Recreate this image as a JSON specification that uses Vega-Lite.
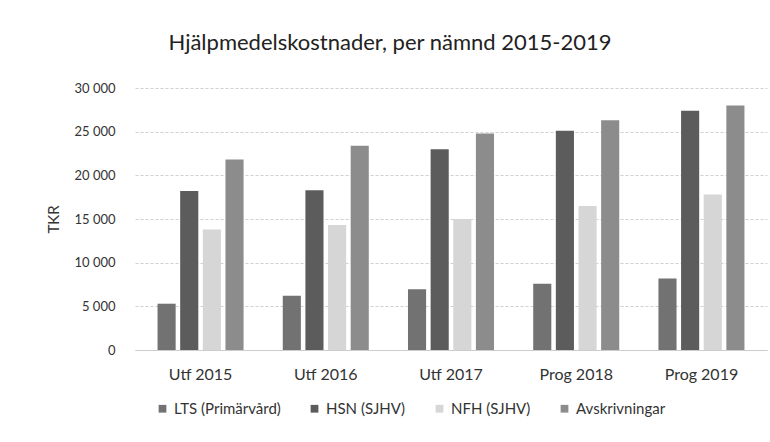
{
  "$schema": "https://vega.github.io/schema/vega-lite/v6.json",
  "width": 632,
  "height": 262,
  "autosize": {"type": "none"},
  "padding": {"left": 135, "top": 88, "right": 3, "bottom": 92},
  "background": "white",
  "config": {"view": {"stroke": null}, "font": "Lato"},
  "title": {"text": "Hjälpmedelskostnader, per nämnd 2015-2019", "fontSize": 22, "fontWeight": "normal", "color": "#222", "font": "Lato", "offset": 27, "dx": -61, "anchor": "middle"},
  "data": {"values": [
    {"ar": "Utf 2015", "namnd": "LTS (Primärvård)", "v": 5300},
    {"ar": "Utf 2015", "namnd": "HSN (SJHV)", "v": 18200},
    {"ar": "Utf 2015", "namnd": "NFH (SJHV)", "v": 13800},
    {"ar": "Utf 2015", "namnd": "Avskrivningar", "v": 21800},
    {"ar": "Utf 2016", "namnd": "LTS (Primärvård)", "v": 6200},
    {"ar": "Utf 2016", "namnd": "HSN (SJHV)", "v": 18300},
    {"ar": "Utf 2016", "namnd": "NFH (SJHV)", "v": 14300},
    {"ar": "Utf 2016", "namnd": "Avskrivningar", "v": 23400},
    {"ar": "Utf 2017", "namnd": "LTS (Primärvård)", "v": 6950},
    {"ar": "Utf 2017", "namnd": "HSN (SJHV)", "v": 23000},
    {"ar": "Utf 2017", "namnd": "NFH (SJHV)", "v": 15000},
    {"ar": "Utf 2017", "namnd": "Avskrivningar", "v": 24800},
    {"ar": "Prog 2018", "namnd": "LTS (Primärvård)", "v": 7600},
    {"ar": "Prog 2018", "namnd": "HSN (SJHV)", "v": 25100},
    {"ar": "Prog 2018", "namnd": "NFH (SJHV)", "v": 16500},
    {"ar": "Prog 2018", "namnd": "Avskrivningar", "v": 26300},
    {"ar": "Prog 2019", "namnd": "LTS (Primärvård)", "v": 8200},
    {"ar": "Prog 2019", "namnd": "HSN (SJHV)", "v": 27400},
    {"ar": "Prog 2019", "namnd": "NFH (SJHV)", "v": 17800},
    {"ar": "Prog 2019", "namnd": "Avskrivningar", "v": 28000}
  ]},
  "mark": {"type": "bar"},
  "encoding": {
    "x": {"field": "ar", "type": "nominal", "sort": null,
      "scale": {"paddingInner": 0.313, "paddingOuter": 0.18},
      "axis": {"title": null, "labelAngle": 0, "labelFontSize": 16, "labelColor": "#333", "labelFont": "Lato", "ticks": false, "domainColor": "#ccc", "labelPadding": 16}},
    "xOffset": {"field": "namnd", "type": "nominal", "sort": ["LTS (Primärvård)", "HSN (SJHV)", "NFH (SJHV)", "Avskrivningar"], "scale": {"paddingInner": 0.2}},
    "y": {"field": "v", "type": "quantitative",
      "scale": {"domain": [0, 30000]},
      "axis": {"title": "TKR", "titleFontSize": 15, "titleFontWeight": "normal", "titleColor": "#333", "titlePadding": 12, "values": [0, 5000, 10000, 15000, 20000, 25000, 30000], "labelExpr": "replace(format(datum.value, ','), ',', ' ')", "labelFontSize": 13, "labelColor": "#333", "labelPadding": 20, "domain": false, "ticks": false, "gridColor": "#d0d0d0", "gridDash": [3, 2]}},
    "color": {"field": "namnd", "type": "nominal",
      "scale": {"domain": ["LTS (Primärvård)", "HSN (SJHV)", "NFH (SJHV)", "Avskrivningar"], "range": ["#727272", "#5c5c5c", "#d6d6d6", "#8c8c8c"]},
      "legend": {"title": null, "orient": "none", "direction": "horizontal", "legendX": 20, "legendY": 313, "symbolType": "square", "symbolSize": 60, "labelFontSize": 15, "labelColor": "#333", "columnPadding": 26}}
  }
}
